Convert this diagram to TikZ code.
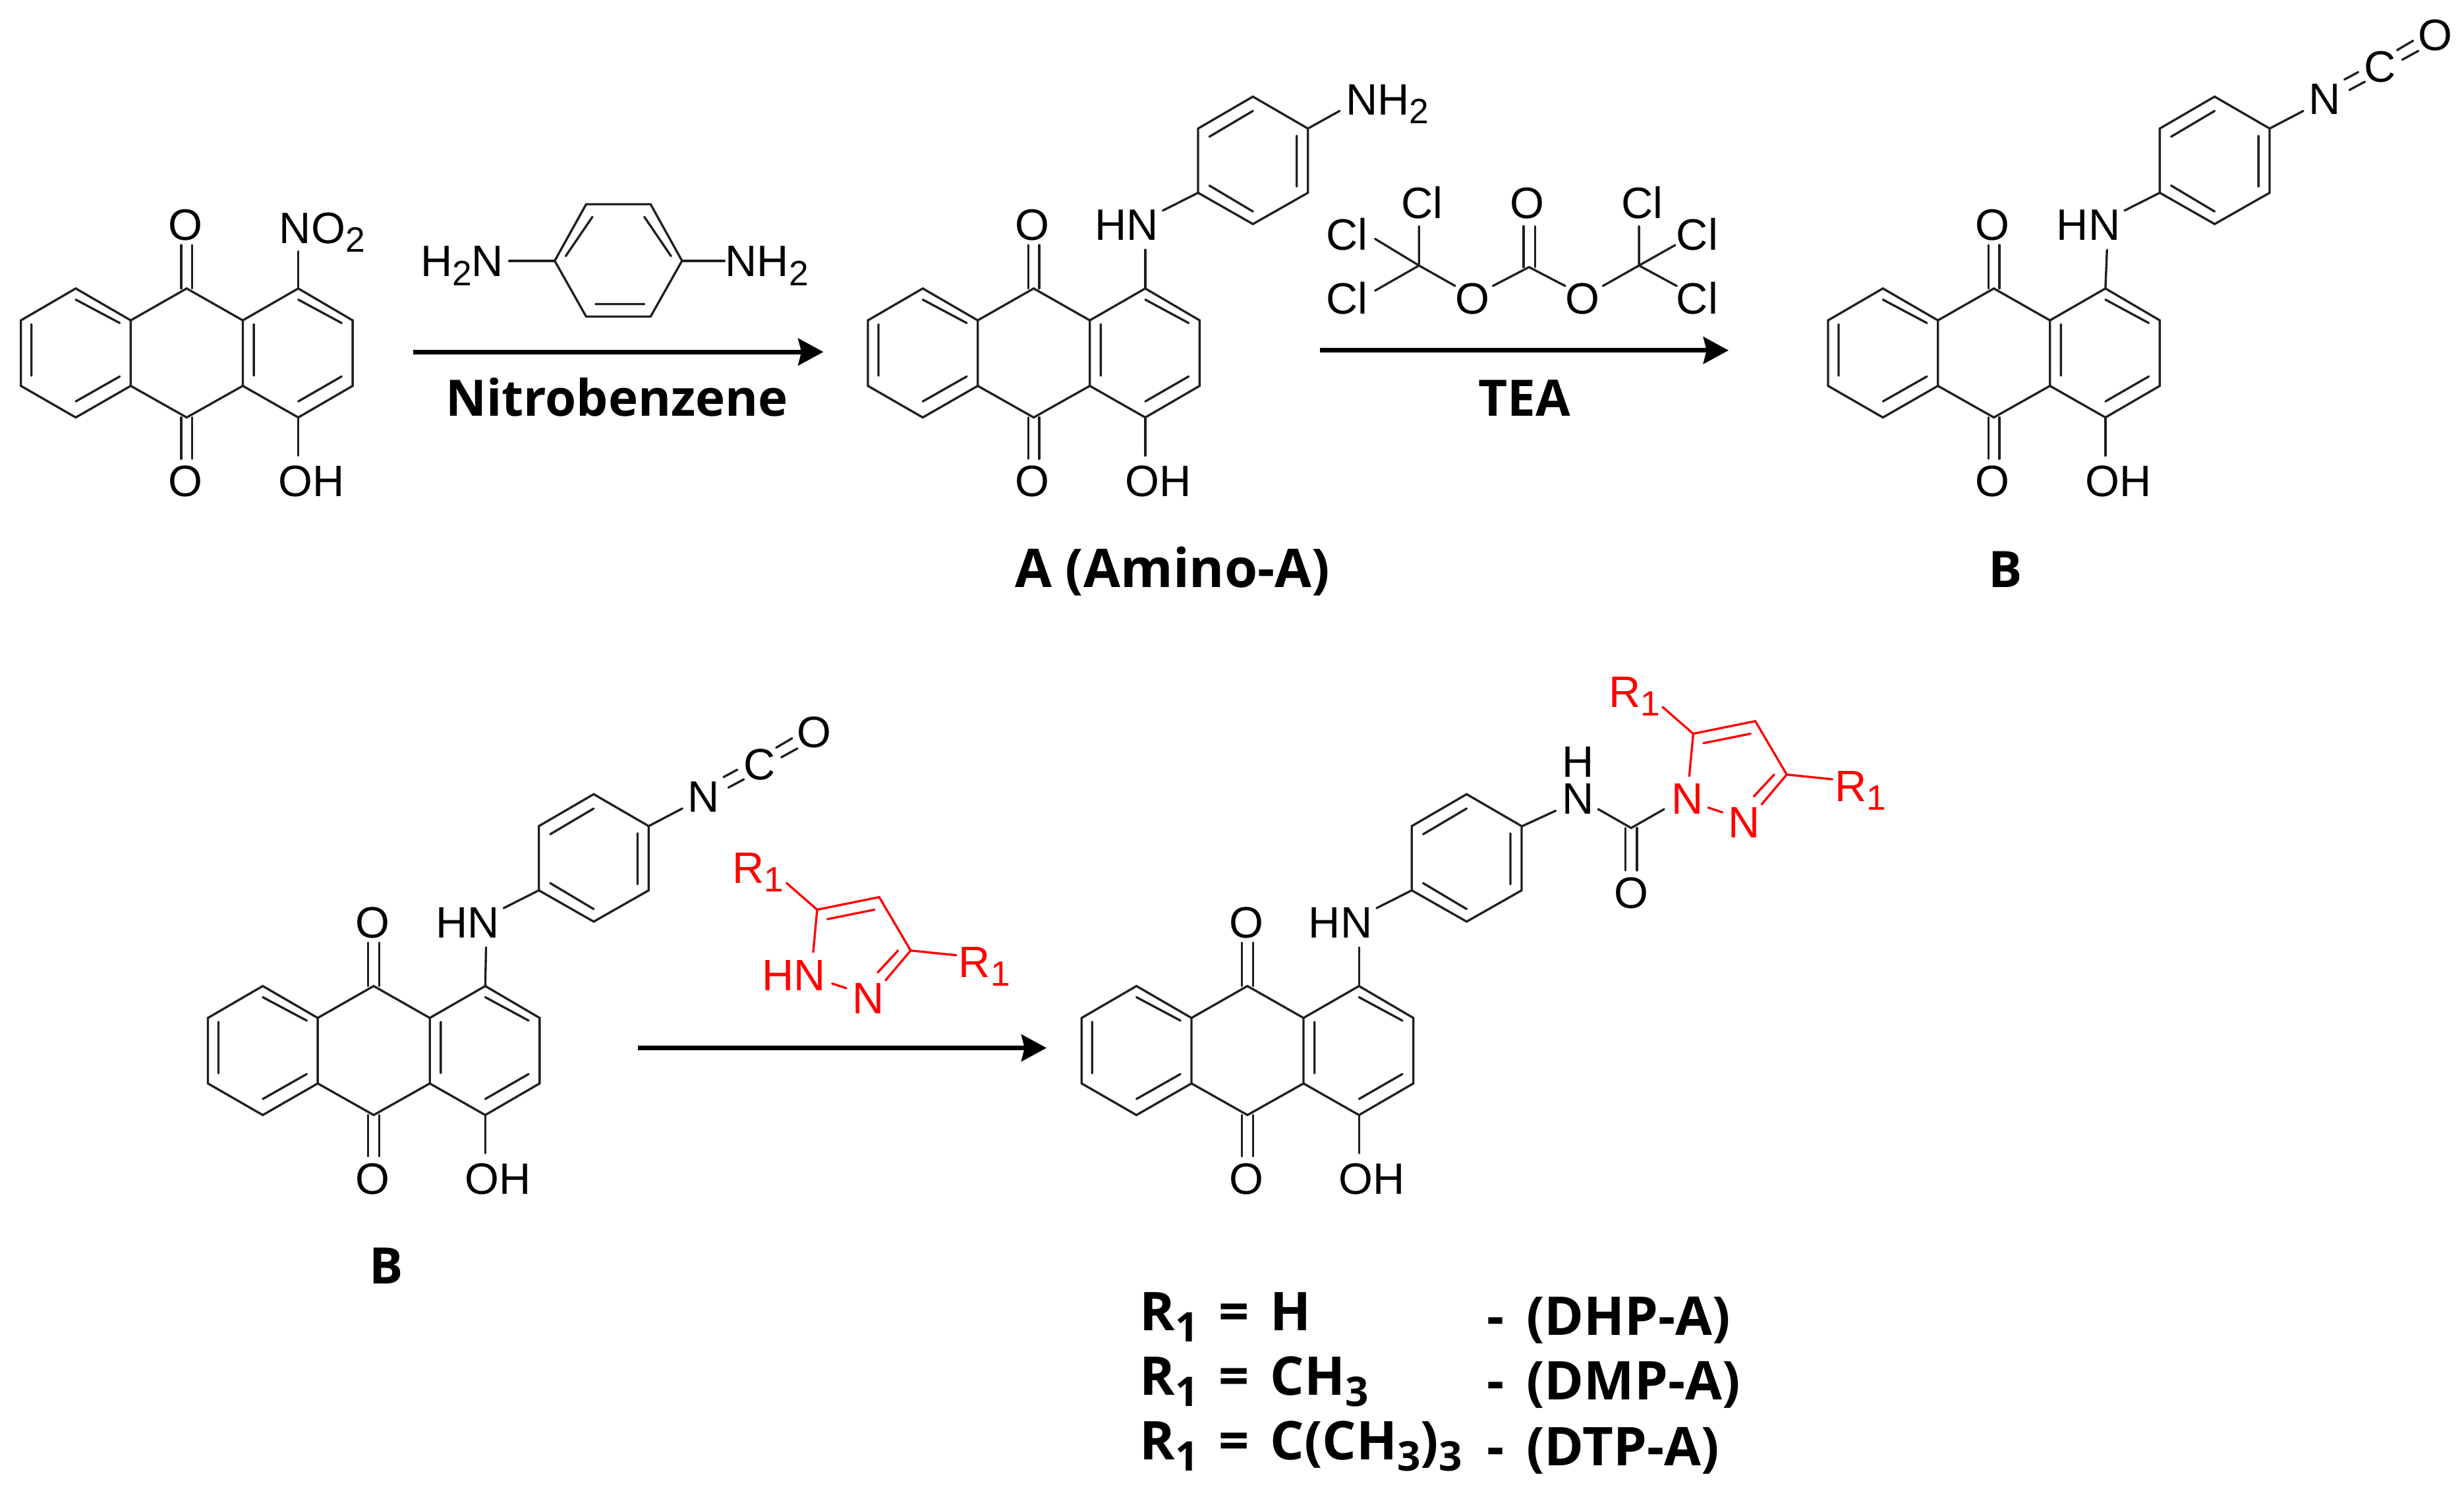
\documentclass[tikz,border=0pt]{standalone}
\usepackage{fontspec}
\setmainfont{Liberation Sans}
\newfontfamily\headfont{Open Sans}
\usetikzlibrary{arrows.meta}
\definecolor{bondred}{RGB}{255,0,0}
\tikzset{
  x=0.5pt,y=-0.5pt,
  bond/.style={line width=0.7pt,line cap=round,line join=miter,color=black!88},
  redbond/.style={bond,color=bondred},
  atom/.style={anchor=base,inner sep=0pt,font=\fontsize{14}{15}\selectfont},
  redatom/.style={atom,text=bondred},
  head/.style={anchor=base west,inner sep=0pt,font=\fontsize{16}{18}\selectfont\headfont\bfseries},
  legend/.style={head,font=\fontsize{17}{19}\selectfont\headfont\bfseries},
  rxn/.style={line width=1.5pt,-{Stealth[length=8pt,width=8.5pt,inset=1pt]}},
}
\newcommand\chsub[1]{\raisebox{-2.8pt}{\fontsize{11.2}{12}\selectfont #1}}
\newcommand\hsub[1]{\raisebox{-3.6pt}{\fontsize{13}{13}\selectfont #1}}
% anthraquinone core: prefix, dx, dy
\newcommand\aqcore[3]{%
\begin{scope}[shift={(#2,#3)}]
  \coordinate (#1a) at (13.3,203.9); \coordinate (#1b) at (48.2,183.6);
  \coordinate (#1c) at (83.2,203.9); \coordinate (#1d) at (83.2,245.6);
  \coordinate (#1e) at (48.2,265.7); \coordinate (#1f) at (13.3,245.6);
  \coordinate (#1g) at (118.8,183.6); \coordinate (#1h) at (154.5,203.9);
  \coordinate (#1i) at (154.5,245.6); \coordinate (#1j) at (118.8,265.7);
  \coordinate (#1k) at (189.8,183.6); \coordinate (#1l) at (224.4,203.9);
  \coordinate (#1m) at (224.4,245.6); \coordinate (#1n) at (189.8,265.7);
  \draw[bond] (#1a)--(#1b)--(#1c)--(#1d)--(#1e)--(#1f)--cycle;
  \draw[bond] (#1c)--(#1g)--(#1h)--(#1i)--(#1j)--(#1d);
  \draw[bond] (#1h)--(#1k)--(#1l)--(#1m)--(#1n)--(#1i);
  \draw[bond] (48.2,190.7)--(76.2,205.6) (76.2,239.6)--(48.2,255.5) (20,206.4)--(20,239.1);
  \draw[bond] (161.5,206.4)--(161.5,239.1) (189.8,190.7)--(217.4,205.6) (217.4,239.6)--(189.8,255.5);
  \node[atom] (#1O1) at (118,153) {O};
  \node[atom] (#1O2) at (118,316) {O};
  \node[atom] (#1OH) at (198,316) {OH};
  \coordinate (#1t1) at (115.3,156); \coordinate (#1t2) at (122.3,156);
  \coordinate (#1u1) at (115.3,292); \coordinate (#1u2) at (122.3,292);
  \draw[bond] (115.3,183.6)--(#1t1) (122.3,183.6)--(#1t2);
  \draw[bond] (115.3,265.7)--(#1u1) (122.3,265.7)--(#1u2);
  \coordinate (#1v) at (189.8,290);
  \draw[bond] (#1n)--(#1v);
\end{scope}}
% amino-phenyl arm: prefix, dx, dy
\newcommand\aqarm[3]{%
\begin{scope}[shift={(#2,#3)}]
  \node[atom] (#1HN) at (178,153) {HN};
  \coordinate (#1p) at (223.4,122.7); \coordinate (#1q) at (223.4,81.8);
  \coordinate (#1r) at (258.3,61.5); \coordinate (#1s) at (293.3,81.8);
  \coordinate (#1w) at (293.3,122.7); \coordinate (#1x) at (258.3,142.6);
  \coordinate (#1y) at (189.8,159); \coordinate (#1z) at (201,134);
  \draw[bond] (#1k)--(#1y);
  \draw[bond] (#1z)--(#1p);
  \draw[bond] (#1p)--(#1q)--(#1r)--(#1s)--(#1w)--(#1x)--cycle;
  \draw[bond] (230.6,87)--(258.3,70.6) (286.2,86.4)--(286.2,118.8) (230.6,118.1)--(258.3,134.6);
\end{scope}}
% N=C=O: prefix, dx, dy (frame of the first structure)
\newcommand\aqnco[3]{%
\begin{scope}[shift={(#2,#3)}]
  \node[atom] (#1N) at (328.4,72.7) {N};
  \node[atom] (#1C) at (363.7,52.4) {C};
  \node[atom] (#1O) at (398.6,31.9) {O};
  \coordinate (#1n1) at (314.7,70.6);
  \draw[bond] (#1s)--(#1n1);
  \draw[bond] (340.9,50.6)--(349.7,45.9) (344,57.3)--(353.9,52);
  \draw[bond] (374.4,31.9)--(384.6,25.9) (377.7,38)--(387.9,32.4);
\end{scope}}
% pyrazole ring in red: prefix, dx, dy
\newcommand\pyrz[3]{%
\begin{scope}[shift={(#2,#3)}]
  \coordinate (#1c5) at (1077.5,467); \coordinate (#1c4) at (1117,459); \coordinate (#1c3) at (1137,493);
  \coordinate (#1e1) at (1058,450); \coordinate (#1e2) at (1166,496);
  \coordinate (#1e3) at (1075,494); \coordinate (#1e4) at (1121,512);
  \coordinate (#1e5) at (1087,514); \coordinate (#1e6) at (1096,517);
  \draw[redbond] (#1e3)--(#1c5)--(#1c4)--(#1c3)--(#1e4);
  \draw[redbond] (#1e1)--(#1c5) (#1c3)--(#1e2) (#1e5)--(#1e6);
  \draw[redbond] (1084,473)--(1114,467) (1116,507)--(1129,493);
  \node[redatom] (#1N2) at (1110,533) {N};
  \node[redatom] (#1Ra) at (1040,450) {R\chsub{1}};
  \node[redatom] (#1Rb) at (1184,510) {R\chsub{1}};
\end{scope}}
\begin{document}
\begin{tikzpicture}
\useasboundingbox (0,0) rectangle (1568,949);
% ---- starting material
\aqcore{a}{0}{0}
\node[atom] (aNO) at (205,155) {NO\chsub{2}};
\coordinate (aNOe) at (189.8,160);
\draw[bond] (ak)--(aNOe);
% ---- p-phenylenediamine
\coordinate (d1) at (353,166); \coordinate (d2) at (373,130); \coordinate (d3) at (414,130);
\coordinate (d4) at (434,166); \coordinate (d5) at (414,201.5); \coordinate (d6) at (373,201.5);
\draw[bond] (d1)--(d2)--(d3)--(d4)--(d5)--(d6)--cycle;
\draw[bond] (360,163)--(377,138) (410,138)--(427,163) (379,193.5)--(410,193.5);
\node[atom] (dL) at (294,176) {H\chsub{2}N};
\node[atom] (dR) at (488,176) {NH\chsub{2}};
\coordinate (dLe) at (324,166); \coordinate (dRe) at (461,166);
\draw[bond] (dLe)--(d1) (d4)--(dRe);
% ---- arrow 1
\coordinate (ar1s) at (263,224); \coordinate (ar1e) at (524,224);
\draw[rxn] (ar1s)--(ar1e);
\node[head,anchor=base] (nb) at (392.5,265) {Nitrobenzene};
% ---- A
\aqcore{b}{539}{0}
\aqarm{b}{539}{0}
\node[atom] (bNH) at (883,73) {NH\chsub{2}};
\coordinate (bNe) at (852.5,70.6);
\draw[bond] (bs)--(bNe);
\node[head,anchor=base,font=\fontsize{17}{19}\selectfont\headfont\bfseries] (la) at (746,374) {A (Amino-A)};
% ---- triphosgene
\coordinate (t1) at (903,169); \coordinate (t2) at (973,170); \coordinate (t3) at (1043,169);
\node[atom] (tCa) at (857,159) {Cl};
\node[atom] (tCb) at (905,139) {Cl};
\node[atom] (tCc) at (857,200) {Cl};
\node[atom] (tO1) at (937,200) {O};
\node[atom] (tO2) at (972,139) {O};
\node[atom] (tO3) at (1007,200) {O};
\node[atom] (tCd) at (1045,139) {Cl};
\node[atom] (tCe) at (1080,159) {Cl};
\node[atom] (tCf) at (1080,200) {Cl};
\coordinate (te1) at (903,144); \coordinate (te2) at (875,152); \coordinate (te3) at (875,185);
\coordinate (te4) at (926,182); \coordinate (te5) at (950,182); \coordinate (te6) at (996,182);
\coordinate (te7) at (1020,182); \coordinate (te8) at (1043,144); \coordinate (te9) at (1066,156);
\coordinate (te10) at (1067,182);
\draw[bond] (t1)--(te1) (t1)--(te2) (t1)--(te3) (t1)--(te4);
\draw[bond] (te5)--(t2)--(te6) (te7)--(t3);
\draw[bond] (t3)--(te8) (t3)--(te9) (t3)--(te10);
\draw[bond] (969.5,144)--(969.5,170) (976.8,144)--(976.8,170);
% ---- arrow 2
\coordinate (ar2s) at (840,223); \coordinate (ar2e) at (1100,223);
\draw[rxn] (ar2s)--(ar2e);
\node[head,anchor=base] (tea) at (970,265) {TEA};
% ---- B
\aqcore{c}{1150}{0}
\aqarm{c}{1151}{0}
\aqnco{c}{1151}{0}
\node[head,anchor=base] (lb) at (1276,374) {B};
% ---- B (second row)
\aqcore{e}{119}{444}
\aqarm{e}{119.5}{444}
\aqnco{e}{119.5}{444}
\node[head,anchor=base] (lb2) at (246,817) {B};
% ---- free pyrazole
\pyrz{f}{-557.5}{112}
\node[redatom] (fN1) at (505,630.5) {HN};
% ---- arrow 3
\coordinate (ar3s) at (406,667); \coordinate (ar3e) at (666,667);
\draw[rxn] (ar3s)--(ar3e);
% ---- product
\aqcore{g}{675}{444}
\aqarm{g}{675}{444}
\pyrz{h}{0}{0}
\node[atom] (gN) at (1004,518) {\shortstack{H\\[-1pt]N}};
\node[atom] (gO) at (1038,578) {O};
\node[redatom] (hN1) at (1074,518) {N};
\coordinate (gk1) at (968.3,526); \coordinate (gk2) at (990,516);
\coordinate (gk3) at (1017,515); \coordinate (gk4) at (1038,527); \coordinate (gk5) at (1059,515);
\draw[bond] (gk1)--(gk2) (gk3)--(gk4)--(gk5);
\draw[bond] (1034.3,527)--(1034.3,554) (1041.7,527)--(1041.7,554);
% ---- legend
\node[legend] (r1a) at (725,847) {R\hsub{1}};
\node[legend] (r1b) at (775,847) {=};
\node[legend] (r1c) at (808,847) {H};
\node[legend] (r1d) at (946,850) {-};
\node[legend] (r1e) at (971,850) {(DHP-A)};
\node[legend] (r2a) at (725,888) {R\hsub{1}};
\node[legend] (r2b) at (775,888) {=};
\node[legend] (r2c) at (808,888) {CH\hsub{3}};
\node[legend] (r2d) at (946,891) {-};
\node[legend] (r2e) at (971,891) {(DMP-A)};
\node[legend] (r3a) at (725,929) {R\hsub{1}};
\node[legend] (r3b) at (775,929) {=};
\node[legend] (r3c) at (808,929) {C(CH\hsub{3})\hsub{3}};
\node[legend] (r3d) at (946,933) {-};
\node[legend] (r3e) at (971,933) {(DTP-A)};
\end{tikzpicture}
\end{document}
